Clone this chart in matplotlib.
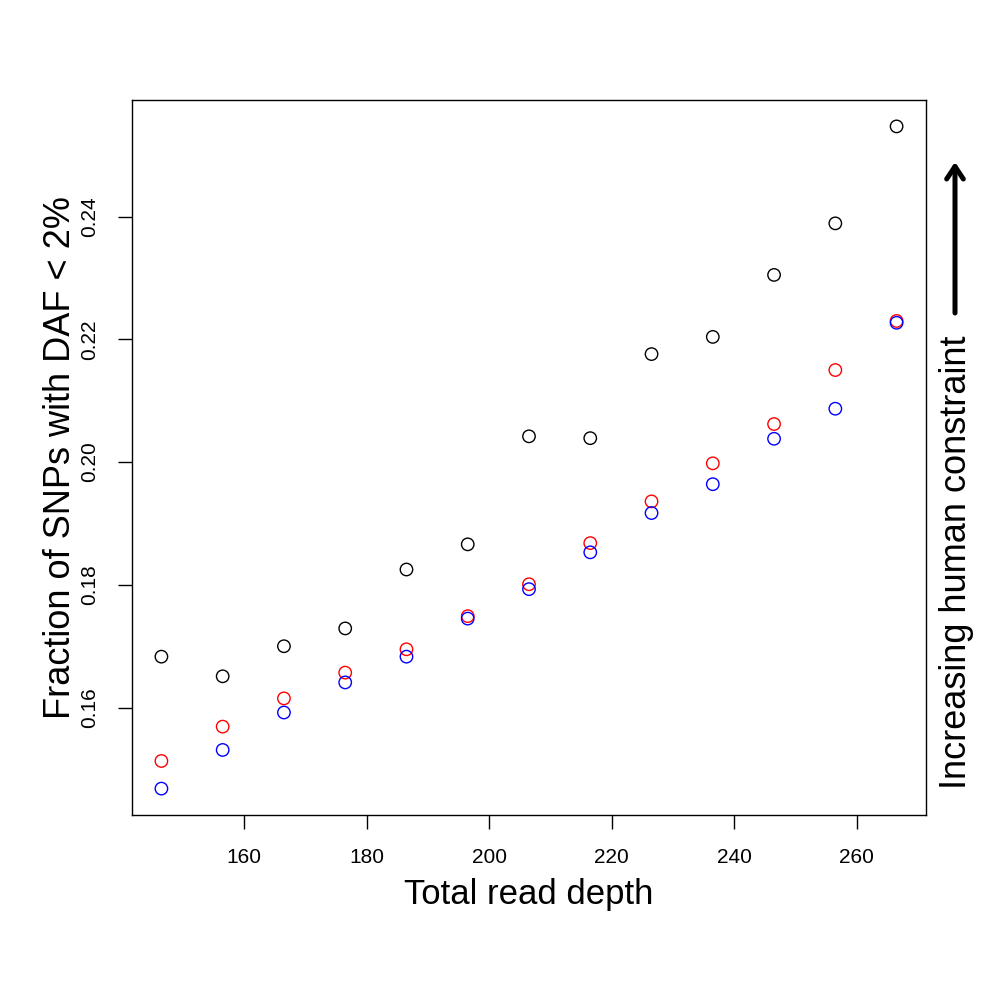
import matplotlib
matplotlib.use("Agg")
import matplotlib.pyplot as plt

plt.rcParams['font.family'] = ['Liberation Sans', 'DejaVu Sans']

depth = [146.5, 156.5, 166.5, 176.5, 186.5, 196.5, 206.5, 216.5, 226.5, 236.5, 246.5, 256.5, 266.5]
frac_black = [0.1683, 0.1651, 0.1700, 0.1729, 0.1825, 0.1866, 0.2042, 0.2039, 0.2176, 0.2204, 0.2305, 0.2389, 0.2547]
frac_red = [0.1513, 0.1569, 0.1615, 0.1657, 0.1695, 0.1749, 0.1801, 0.1868, 0.1936, 0.1998, 0.2062, 0.2150, 0.2230]
frac_blue = [0.1468, 0.1531, 0.1592, 0.1641, 0.1683, 0.1745, 0.1793, 0.1853, 0.1917, 0.1964, 0.2038, 0.2087, 0.2227]

xticks = [160, 180, 200, 220, 240, 260]
yticks = [0.16, 0.18, 0.20, 0.22, 0.24]

fig = plt.figure(figsize=(10, 10), dpi=100)
ax = fig.add_axes([0.132, 0.185, 0.794, 0.715])

for vals, col in [(frac_black, 'black'), (frac_red, 'red'), (frac_blue, 'blue')]:
    ax.scatter(depth, vals, s=80, facecolors='none', edgecolors=col, linewidths=1.0)

ax.set_xlim(141.7, 271.3)
ax.set_ylim(0.1425, 0.259)
ax.set_xticks(xticks)
ax.set_xticklabels([str(t) for t in xticks])
ax.set_yticks(yticks)
ax.set_yticklabels([f"{t:.2f}" for t in yticks], rotation=90, va='center')
ax.tick_params(direction='out', length=10, width=1, labelsize=15, pad=14)
for sp in ax.spines.values():
    sp.set_linewidth(1)

ax.set_xlabel("Total read depth", fontsize=25, labelpad=8)
ax.set_ylabel("Fraction of SNPs with DAF < 2%", fontsize=26, labelpad=1)

fig.text(0.956, 0.438, "Increasing human constraint", rotation=90, fontsize=26,
         ha='center', va='center')
fig.add_artist(matplotlib.patches.FancyArrowPatch((0.955, 0.687), (0.955, 0.838),
               transform=fig.transFigure, arrowstyle='->,head_length=9,head_width=6',
               linewidth=3.6, color='black', shrinkA=0, shrinkB=0))

fig.savefig("out.png", dpi=100, facecolor='white')
